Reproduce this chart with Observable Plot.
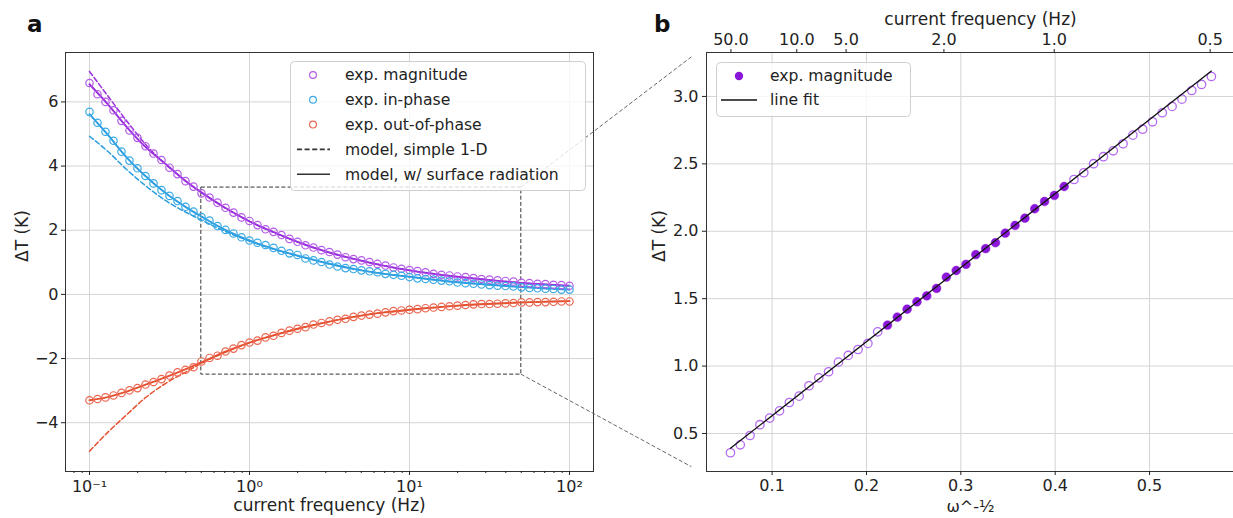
<!DOCTYPE html>
<html><head><meta charset="utf-8">
<script src="https://cdn.jsdelivr.net/npm/d3@7"></script>
<script src="https://cdn.jsdelivr.net/npm/@observablehq/plot@0.6"></script>
<style>
html,body{margin:0;padding:0;background:#fff;overflow:hidden;}
#wrap{position:relative;width:1233px;height:518px;overflow:hidden;font-family:"DejaVu Sans",sans-serif;color:#222;}
.panel{position:absolute;top:0;}
#overlay{position:absolute;left:0;top:0;pointer-events:none;}
</style></head><body><div id="wrap"></div>
<script>
// ---------- Panel a data ----------
const aFreq = [0.1,0.1122,0.1259,0.1413,0.1585,0.1778,0.1995,0.2239,0.2512,0.2818,0.3162,0.3548,0.3981,0.4467,0.5012,0.5623,0.631,0.7079,0.7943,0.8913,
  1,1.122,1.259,1.413,1.585,1.778,1.995,2.239,2.512,2.818,3.162,3.548,3.981,4.467,5.012,5.623,6.31,7.079,7.943,8.913,
  10,11.22,12.59,14.13,15.85,17.78,19.95,22.39,25.12,28.18,31.62,35.48,39.81,44.67,50.12,56.23,63.1,70.79,79.43,89.13,100];
const expMag = [6.59,6.24,6.00,5.74,5.41,5.11,4.88,4.62,4.39,4.19,3.95,3.75,3.53,3.36,3.15,3.02,2.86,2.70,2.55,2.40,
  2.29,2.16,2.03,1.95,1.85,1.73,1.64,1.53,1.46,1.38,1.32,1.24,1.16,1.10,1.06,1.01,0.95,0.90,0.84,0.80,
  0.76,0.73,0.69,0.64,0.61,0.59,0.56,0.54,0.51,0.48,0.46,0.44,0.42,0.40,0.36,0.35,0.33,0.32,0.30,0.29,0.27];
const expIn = [5.69,5.35,5.07,4.79,4.45,4.17,3.93,3.69,3.46,3.25,3.07,2.91,2.73,2.58,2.41,2.30,2.13,2.01,1.90,1.78,
  1.68,1.61,1.54,1.45,1.36,1.28,1.23,1.12,1.06,1.01,0.93,0.87,0.82,0.79,0.75,0.72,0.69,0.64,0.61,0.58,
  0.54,0.50,0.48,0.46,0.43,0.41,0.37,0.35,0.33,0.31,0.29,0.27,0.26,0.25,0.22,0.20,0.19,0.18,0.17,0.15,0.15];
const expOut = [-3.30,-3.26,-3.21,-3.15,-3.07,-2.99,-2.92,-2.81,-2.73,-2.64,-2.53,-2.43,-2.35,-2.27,-2.09,-1.98,-1.91,-1.78,-1.69,-1.58,
  -1.50,-1.44,-1.34,-1.29,-1.20,-1.13,-1.07,-1.02,-0.94,-0.89,-0.84,-0.79,-0.76,-0.70,-0.66,-0.63,-0.60,-0.56,-0.52,-0.50,
  -0.48,-0.46,-0.43,-0.41,-0.39,-0.37,-0.35,-0.33,-0.31,-0.30,-0.30,-0.29,-0.28,-0.27,-0.25,-0.25,-0.24,-0.24,-0.23,-0.22,-0.22];

const modelF = [0.1,0.13,0.17,0.22,0.3,0.4,0.5,0.7,1,1.5,2,3,5,7,10,20,30,50,100];
const surfMag = [6.55,5.93,5.23,4.63,4.06,3.53,3.18,2.71,2.28,1.89,1.64,1.34,1.05,0.89,0.75,0.55,0.46,0.36,0.27];
const surfIn  = [5.62,4.98,4.28,3.72,3.15,2.72,2.43,2.02,1.68,1.38,1.21,0.98,0.75,0.64,0.55,0.38,0.31,0.23,0.15];
const surfOut = [-3.30,-3.20,-3.03,-2.83,-2.58,-2.33,-2.12,-1.79,-1.50,-1.24,-1.07,-0.87,-0.66,-0.56,-0.48,-0.35,-0.30,-0.25,-0.21];
const simpleMag = [6.95,6.19,5.42,4.72,4.05,3.53,3.18,2.70,2.27,1.88,1.63,1.33,1.05,0.89,0.75,0.55,0.46,0.36,0.27];
const simpleIn  = [4.93,4.46,3.90,3.42,2.92,2.56,2.32,1.97,1.66,1.37,1.20,0.98,0.75,0.64,0.55,0.38,0.31,0.23,0.15];
const simpleOut = [-4.89,-4.30,-3.76,-3.25,-2.77,-2.42,-2.15,-1.81,-1.51,-1.24,-1.07,-0.87,-0.66,-0.56,-0.48,-0.35,-0.30,-0.25,-0.21];

const zoomBoxF = [0.5, 50];
const zoomBoxT = [-2.5, 3.33];

const aXTicks = [0.1, 1, 10, 100];
const aXTickLabels = ["10\u207B\u00B9", "10\u2070", "10\u00B9", "10\u00B2"];
const aXMinor = [0.08,0.09,0.2,0.3,0.4,0.5,0.6,0.7,0.8,0.9,2,3,4,5,6,7,8,9,20,30,40,50,60,70,80,90];
const aYTicks = [-4, -2, 0, 2, 4, 6];

// ---------- Panel b data ----------
const bX = [0.0559,0.0663,0.0767,0.0871,0.0975,0.1079,0.1183,0.1287,0.1391,0.1495,0.1599,0.1703,0.1807,0.1911,0.2015,0.2119,
  0.2223,0.2327,0.2431,0.2535,0.2639,0.2743,0.2847,0.2951,0.3055,0.3159,0.3263,0.3367,0.3471,0.3575,0.3679,0.3783,0.3887,0.3991,0.4095,
  0.4199,0.4303,0.4407,0.4511,0.4615,0.4719,0.4823,0.4927,0.5031,0.5135,0.5239,0.5343,0.5447,0.5551,0.5655];
const bMag = [0.357,0.416,0.485,0.565,0.614,0.668,0.730,0.777,0.854,0.913,0.958,1.029,1.079,1.123,1.168,1.254,
  1.304,1.363,1.422,1.477,1.521,1.576,1.660,1.709,1.755,1.827,1.871,1.915,1.986,2.043,2.097,2.167,2.221,2.266,2.332,
  2.384,2.434,2.501,2.553,2.597,2.649,2.713,2.757,2.812,2.879,2.926,2.980,3.044,3.089,3.148];
const bFitWindow = [0.222, 0.41];
const fitX = [0.0559, 0.5655];
const fitY = [0.390, 3.188];
const bXTicks = [0.1, 0.2, 0.3, 0.4, 0.5];
const bYTicks = [0.5, 1.0, 1.5, 2.0, 2.5, 3.0];
const topFreqs = [50, 10, 5, 2, 1, 0.5];
const topLabels = ["50.0", "10.0", "5.0", "2.0", "1.0", "0.5"];
const connectB = {x: 0.015, y: [3.29, 0.25]};

// ---------- styles ----------
const C = {
  magDot: "#b35ae8", magLine: "#9a2fdc",
  inDot: "#3aa9e6", inLine: "#2b9de0",
  outDot: "#ec6650", outLine: "#e5502f",
  bFill: "#8a17d8", bOpen: "#b46cf0",
  grid: "#d4d4d4", frame: "#333", text: "#222"
};
const baseStyle = {fontSize: "16px", fontFamily: "DejaVu Sans, sans-serif", color: C.text, background: "transparent"};

const pts = (xs, ys) => xs.map((x, i) => ({x, y: ys[i]}));

// ---------- Panel a ----------
const labA = new Map(aXTicks.map((t, i) => [t, aXTickLabels[i]]));
const plotA = Plot.plot({
  width: 620, height: 518,
  marginLeft: 65, marginRight: 27, marginTop: 52, marginBottom: 47,
  style: baseStyle,
  x: {type: "log", domain: [0.0708, 141.3]},
  y: {domain: [-5.52, 7.54]},
  marks: [
    Plot.gridX({ticks: aXTicks, stroke: C.grid, strokeOpacity: 1}),
    Plot.gridY({ticks: aYTicks, stroke: C.grid, strokeOpacity: 1}),
    Plot.rect([{x1: zoomBoxF[0], x2: zoomBoxF[1], y1: zoomBoxT[0], y2: zoomBoxT[1]}],
      {x1: "x1", x2: "x2", y1: "y1", y2: "y2", fill: "none", stroke: "#333", strokeWidth: 1, strokeDasharray: "4,2.2"}),
    Plot.line(pts(modelF, simpleMag), {x: "x", y: "y", stroke: C.magLine, strokeWidth: 1.5, strokeDasharray: "5,2.6", curve: "monotone-x"}),
    Plot.line(pts(modelF, simpleIn), {x: "x", y: "y", stroke: C.inLine, strokeWidth: 1.5, strokeDasharray: "5,2.6", curve: "monotone-x"}),
    Plot.line(pts(modelF, simpleOut), {x: "x", y: "y", stroke: C.outLine, strokeWidth: 1.5, strokeDasharray: "5,2.6", curve: "monotone-x"}),
    Plot.line(pts(modelF, surfMag), {x: "x", y: "y", stroke: C.magLine, strokeWidth: 1.9, curve: "monotone-x"}),
    Plot.line(pts(modelF, surfIn), {x: "x", y: "y", stroke: C.inLine, strokeWidth: 1.9, curve: "monotone-x"}),
    Plot.line(pts(modelF, surfOut), {x: "x", y: "y", stroke: C.outLine, strokeWidth: 1.9, curve: "monotone-x"}),
    Plot.dot(pts(aFreq, expMag), {x: "x", y: "y", r: 3.7, stroke: C.magDot, strokeWidth: 1.2, fill: "none"}),
    Plot.dot(pts(aFreq, expIn), {x: "x", y: "y", r: 3.7, stroke: C.inDot, strokeWidth: 1.2, fill: "none"}),
    Plot.dot(pts(aFreq, expOut), {x: "x", y: "y", r: 3.7, stroke: C.outDot, strokeWidth: 1.2, fill: "none"}),
    Plot.frame({stroke: C.frame, strokeWidth: 1}),
    Plot.axisX({ticks: aXMinor, tickSize: 2, tickFormat: () => "", label: null}),
    Plot.axisX({ticks: aXTicks, tickSize: 4, tickPadding: 5, tickFormat: d => labA.get(d), label: null, fontSize: 16}),
    Plot.axisY({ticks: aYTicks, tickSize: 4, tickPadding: 3, tickFormat: d => d < 0 ? "\u2212" + Math.abs(d) : String(d), label: null, fontSize: 16}),
    Plot.text(["current frequency (Hz)"], {frameAnchor: "bottom", dy: 39, fontSize: 17, fill: C.text}),
    Plot.text(["\u0394T (K)"], {frameAnchor: "left", dx: -43, rotate: -90, fontSize: 17, fill: C.text})
  ]
});

// ---------- Panel b ----------
const omegaHalf = f => 1 / Math.sqrt(2 * Math.PI * f);
const topPos = topFreqs.map(omegaHalf);
const labB = new Map(topPos.map((p, i) => [p, topLabels[i]]));
const bPts = pts(bX, bMag);
const inFit = d => d.x >= bFitWindow[0] && d.x <= bFitWindow[1];

const plotB = Plot.plot({
  width: 615, height: 518,
  marginLeft: 86, marginRight: 1, marginTop: 52, marginBottom: 47,
  style: baseStyle,
  x: {domain: [0.0305, 0.590]},
  y: {domain: [0.218, 3.326]},
  marks: [
    Plot.gridX({ticks: bXTicks, stroke: C.grid, strokeOpacity: 1}),
    Plot.gridY({ticks: bYTicks, stroke: C.grid, strokeOpacity: 1}),
    Plot.dot(bPts.filter(d => !inFit(d)), {x: "x", y: "y", r: 4.2, stroke: C.bOpen, strokeWidth: 1.3, fill: "none"}),
    Plot.dot(bPts.filter(inFit), {x: "x", y: "y", r: 4.4, fill: C.bFill, stroke: C.bFill, strokeWidth: 0.5}),
    Plot.line(pts(fitX, fitY), {x: "x", y: "y", stroke: "#111", strokeWidth: 1.3}),
    Plot.frame({stroke: C.frame, strokeWidth: 1}),
    Plot.axisX({ticks: bXTicks, tickSize: 4, tickPadding: 4, tickFormat: d => d.toFixed(1), label: null, fontSize: 16}),
    Plot.axisX({anchor: "top", ticks: topPos, tickSize: 4, tickPadding: 4, tickFormat: d => labB.get(d), label: null, fontSize: 16}),
    Plot.axisY({ticks: bYTicks, tickSize: 4, tickPadding: 4, tickFormat: d => d.toFixed(1), label: null, fontSize: 16}),
    Plot.text(["current frequency (Hz)"], {frameAnchor: "top", dy: -40, dx: 10, fontSize: 17, fill: C.text}),
    Plot.text(["\u03C9^-\u00BD"], {frameAnchor: "bottom", dy: 40, fontSize: 16, fill: C.text}),
    Plot.text(["\u0394T (K)"], {frameAnchor: "left", dx: -47, rotate: -90, fontSize: 17, fill: C.text})
  ]
});

const wrap = document.getElementById("wrap");
plotA.classList.add("panel"); plotA.style.left = "0px";
plotB.classList.add("panel"); plotB.style.left = "620px";
wrap.appendChild(plotA);
wrap.appendChild(plotB);

// ---------- overlay: connectors, legends, panel letters ----------
function scaleFn(plot, name) {
  const s = plot.scale(name);
  if (s && typeof s.apply === "function") return v => s.apply(v);
  const f = (s.type === "log" ? d3.scaleLog() : d3.scaleLinear()).domain(s.domain).range(s.range);
  return f;
}
const ax = scaleFn(plotA, "x"), ay = scaleFn(plotA, "y");
const bx = scaleFn(plotB, "x"), by = scaleFn(plotB, "y");
const offB = 620;

const svg = d3.select(wrap).append("svg").attr("id", "overlay").attr("width", 1233).attr("height", 518)
  .style("font-family", "DejaVu Sans, sans-serif");

// connectors
[[zoomBoxT[1], connectB.y[0]], [zoomBoxT[0], connectB.y[1]]].forEach(([ta, tb]) => {
  svg.append("line")
    .attr("x1", ax(zoomBoxF[1])).attr("y1", ay(ta))
    .attr("x2", bx(connectB.x) + offB).attr("y2", by(tb))
    .attr("stroke", "#666").attr("stroke-width", 1).attr("stroke-dasharray", "4,2.2");
});

// legend a
const legA = svg.append("g");
legA.append("rect").attr("x", 290.5).attr("y", 61.5).attr("width", 295).attr("height", 129).attr("rx", 4)
  .attr("fill", "rgba(255,255,255,0.8)").attr("stroke", "#cfcfcf");
const legAItems = [
  {t: "exp. magnitude", kind: "dot", c: C.magDot},
  {t: "exp. in-phase", kind: "dot", c: C.inDot},
  {t: "exp. out-of-phase", kind: "dot", c: C.outDot},
  {t: "model, simple 1-D", kind: "dash", c: "#333"},
  {t: "model, w/ surface radiation", kind: "solid", c: "#333"}
];
legAItems.forEach((it, i) => {
  const y = 75 + i * 24.8;
  if (it.kind === "dot") legA.append("circle").attr("cx", 313).attr("cy", y).attr("r", 3.4).attr("fill", "none").attr("stroke", it.c).attr("stroke-width", 1.2);
  else legA.append("line").attr("x1", 297).attr("x2", 330).attr("y1", y).attr("y2", y).attr("stroke", it.c)
    .attr("stroke-width", 1.6).attr("stroke-dasharray", it.kind === "dash" ? "5,2.6" : null);
  legA.append("text").attr("x", 345).attr("y", y).attr("dy", "0.35em").attr("font-size", 15.6).attr("fill", C.text).text(it.t);
});

// legend b
const legB = svg.append("g");
legB.append("rect").attr("x", 716.5).attr("y", 62.5).attr("width", 194).attr("height", 54).attr("rx", 4)
  .attr("fill", "rgba(255,255,255,0.8)").attr("stroke", "#cfcfcf");
legB.append("circle").attr("cx", 739).attr("cy", 76).attr("r", 4.2).attr("fill", C.bFill);
legB.append("text").attr("x", 770).attr("y", 76).attr("dy", "0.35em").attr("font-size", 15.6).attr("fill", C.text).text("exp. magnitude");
legB.append("line").attr("x1", 721).attr("x2", 757).attr("y1", 100).attr("y2", 100).attr("stroke", "#111").attr("stroke-width", 1.4);
legB.append("text").attr("x", 770).attr("y", 100).attr("dy", "0.35em").attr("font-size", 15.6).attr("fill", C.text).text("line fit");

// panel letters
svg.append("text").attr("x", 27).attr("y", 32).attr("font-size", 23).attr("font-weight", "bold").attr("fill", "#111").text("a");
svg.append("text").attr("x", 654).attr("y", 32).attr("font-size", 23).attr("font-weight", "bold").attr("fill", "#111").text("b");
</script></body></html>
